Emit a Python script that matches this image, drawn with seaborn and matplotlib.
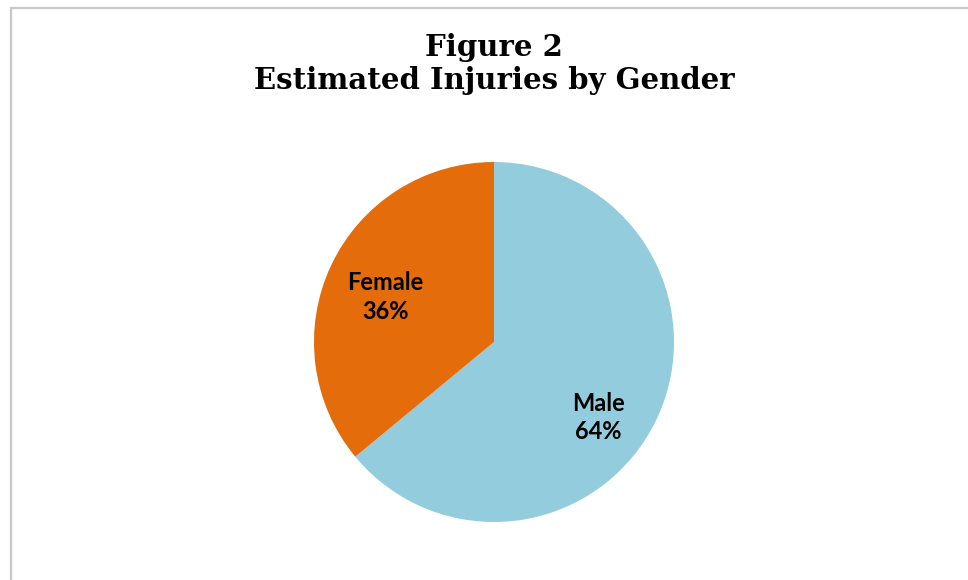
import matplotlib
matplotlib.use("Agg")
import matplotlib.pyplot as plt
import matplotlib.patches as patches
import seaborn as sns

# data
genders = ["Male", "Female"]
shares = [64, 36]
colors = ["#93CDDD", "#E46C0A"]
title_lines = ["Figure 2", "Estimated Injuries by Gender"]

sns.set_theme(style="white")
plt.rcParams['font.family'] = ['DejaVu Sans']
plt.rcParams['text.color'] = 'black'

W, H = 968, 580
fig = plt.figure(figsize=(W / 100, H / 100), dpi=100)
fig.patch.set_facecolor("white")

# chart area border (right/bottom edges fall outside the picture)
frame = patches.Rectangle((10.5 / W, -0.2), 2.0, 1.2 - 7.5 / H,
                          transform=fig.transFigure, fill=False,
                          ec="#c8c8c8", lw=1.6)
fig.patches.append(frame)

cx, cy, r = 494, 580 - 342, 180
ax = fig.add_axes([(cx - r) / W, (cy - r) / H, 2 * r / W, 2 * r / H])

labels = [f"{g}\n{s}%" for g, s in zip(genders, shares)]
wedges, texts = ax.pie(shares, labels=labels, colors=colors, startangle=90,
                       counterclock=False, labeldistance=0.68,
                       wedgeprops=dict(linewidth=0),
                       textprops=dict(ha="center", va="center", fontsize=17,
                                      fontweight="bold",
                                      family=["Lato", "DejaVu Sans"],
                                      color="black", linespacing=1.3))
# Excel-style label nudges (axes data units, radius = 1)
nudges = [(-0.035, -0.13), (0.01, -0.04)]
for t, (dx, dy) in zip(texts, nudges):
    x, y = t.get_position()
    t.set_position((x + dx, y + dy))

ax.set_xlim(-1, 1)
ax.set_ylim(-1, 1)
ax.set_aspect("equal")
ax.axis("off")

fig.text(cx / W, 1 - 64 / H, "\n".join(title_lines), ha="center", va="center",
         fontsize=21, fontweight="bold", family=["DejaVu Serif"],
         color="black", linespacing=1.2)

fig.savefig("out.png", dpi=100)
